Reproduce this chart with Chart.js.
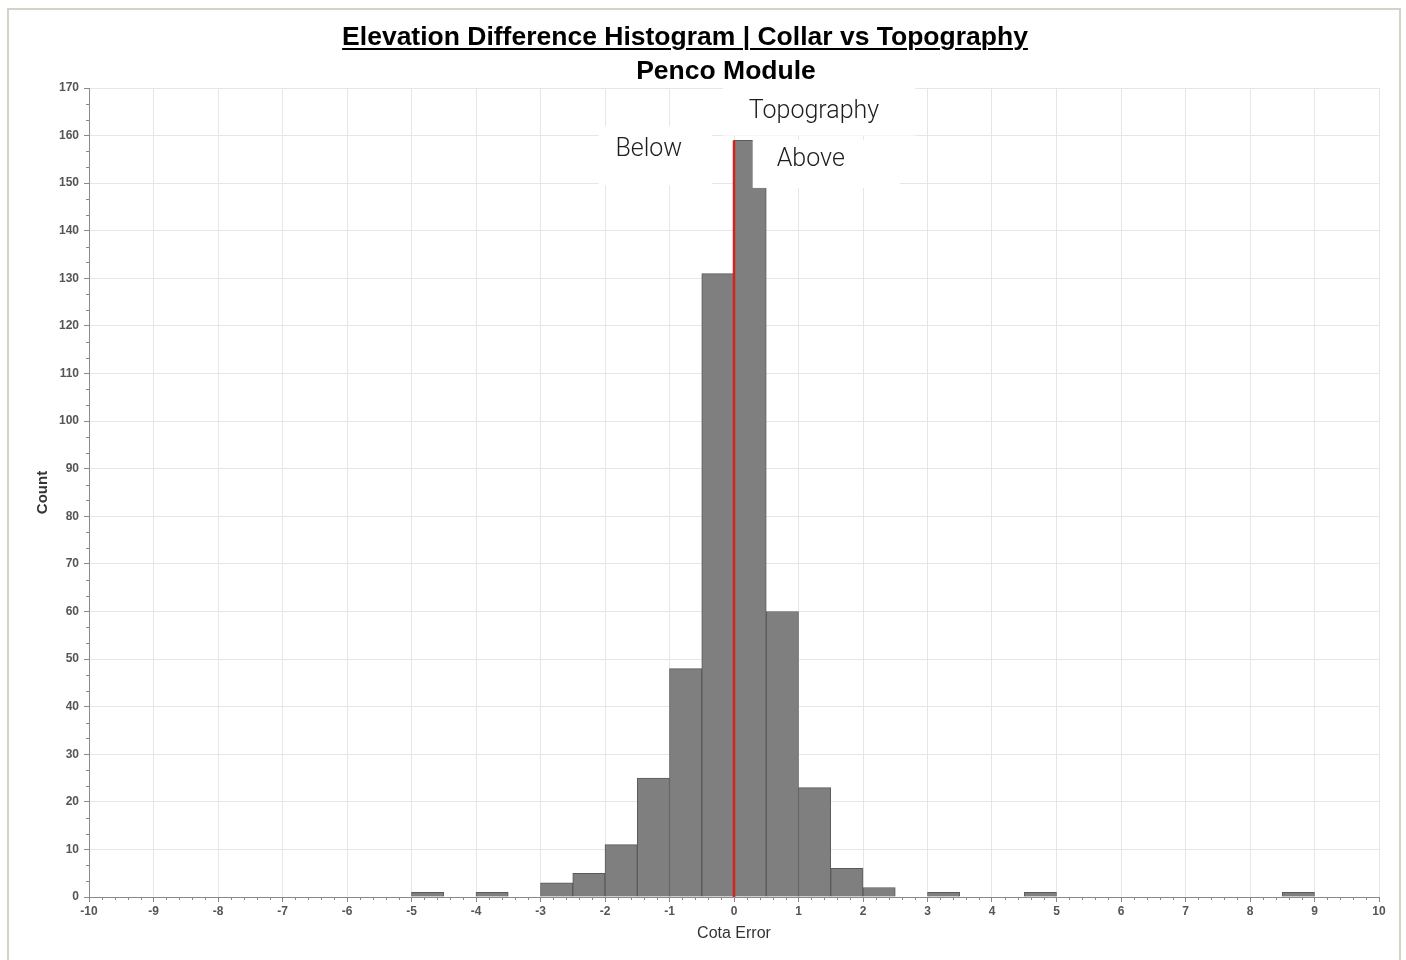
<!DOCTYPE html>
<html>
<head>
<meta charset="utf-8">
<script src="https://cdn.jsdelivr.net/npm/chart.js@4/dist/chart.umd.min.js"></script>
<style>
  html, body { margin: 0; padding: 0; background: #fff; }
  #wrap { position: relative; width: 1406px; height: 960px; overflow: hidden; }
  #frame { position: absolute; left: 7px; top: 8px; width: 1394px; height: 980px; border: 2px solid #d3d3c7; box-sizing: border-box; }
  .ttl { position: absolute; transform: translateX(-50%); white-space: nowrap;
         font: bold 26.5px "Liberation Sans", Arial, sans-serif; line-height: 1; color: #000; }
  #title { left: 685px; top: 23px; text-decoration: underline; text-decoration-thickness: 2px; text-underline-offset: 3px; }
  #subtitle { left: 726px; top: 57px; }
  canvas { position: absolute; left: 0; top: 0; }
</style>
</head>
<body>
<div id="wrap">
  <canvas id="chart" width="1406" height="960"></canvas>
  <div id="frame"></div>
  <div class="ttl" id="title">Elevation Difference Histogram | Collar vs Topography</div>
  <div class="ttl" id="subtitle">Penco Module</div>
</div>
<script>
// histogram bins: 0.5 wide, starting at -10
const binStart = -10;
const binWidth = 0.5;
const counts = [
  0, 0, 0, 0, 0, 0, 0, 0, 0, 0,     // -10 .. -5.5
  1, 0, 1, 0, 3, 5, 11, 25, 48, 131, // -5 .. -0.5
  159, 60, 23, 6, 2, 0, 1, 0, 0, 1,  // 0 .. 4.5
  0, 0, 0, 0, 0, 0, 0, 1, 0, 0       // 5 .. 9.5
];
// red reference line at zero difference
const refLineX = 0;
const refLineTop = 159;
const xTitle = 'Cota Error';
const yTitle = 'Count';

const barData = counts.map((c, i) => ({ x: binStart + binWidth * i + binWidth / 2, y: c }));

// white-boxed text labels, placed in data units
const notes = [
  { text: 'Topography', x: 1.24, y: 165, box: [-0.17, 2.81, 170, 160] },
  { text: 'Below', x: -1.32, y: 157, box: [-2.1, -0.34, 162, 149.6] },
  { text: 'Above', x: 1.19, y: 155, box: [0.29, 2.57, 159.1, 149] }
];

const notesPlugin = {
  id: 'notes',
  afterDatasetsDraw(chart) {
    const { ctx, scales: { x, y } } = chart;
    ctx.save();
    notes.forEach(n => {
      const [x0, x1, y0, y1] = n.box;
      ctx.fillStyle = '#fff';
      ctx.fillRect(x.getPixelForValue(x0), y.getPixelForValue(y0),
        x.getPixelForValue(x1) - x.getPixelForValue(x0), y.getPixelForValue(y1) - y.getPixelForValue(y0));
      ctx.fillStyle = '#1e1e1e';
      ctx.font = '300 25px Roboto';
      ctx.textAlign = 'center';
      ctx.textBaseline = 'middle';
      ctx.fillText(n.text, x.getPixelForValue(n.x), y.getPixelForValue(n.y));
    });
    ctx.restore();
  }
};

// small minor ticks between the labelled ones
const minorTicks = {
  id: 'minorTicks',
  afterDraw(chart) {
    const { ctx, scales: { x, y } } = chart;
    ctx.save();
    ctx.strokeStyle = '#8a8a8a';
    ctx.lineWidth = 1;
    ctx.beginPath();
    for (let i = 0; i <= 100; i++) {
      if (i % 5 === 0) continue;
      const px = Math.round(x.getPixelForValue(-10 + i * 0.2)) + 0.5;
      ctx.moveTo(px, y.bottom);
      ctx.lineTo(px, y.bottom + 3);
    }
    for (let i = 0; i <= 51; i++) {
      if (i % 3 === 0) continue;
      const py = Math.round(y.getPixelForValue(i * 10 / 3)) + 0.5;
      ctx.moveTo(x.left - 3, py);
      ctx.lineTo(x.left, py);
    }
    ctx.stroke();
    ctx.restore();
  }
};

const tickFont = { family: 'Liberation Sans', size: 12, weight: 'bold' };

new Chart(document.getElementById('chart'), {
  type: 'bar',
  data: {
    datasets: [{
      type: 'line',
      data: [{ x: refLineX, y: 0 }, { x: refLineX, y: refLineTop }],
      borderColor: '#d3241c',
      borderWidth: 2.5,
      pointRadius: 0,
      order: 0
    }, {
      data: barData,
      backgroundColor: '#7f7f7f',
      borderColor: '#5a5a5a',
      borderWidth: 1,
      barPercentage: 1,
      categoryPercentage: 1,
      order: 1
    }]
  },
  options: {
    responsive: false,
    animation: false,
    layout: { padding: { left: 30, right: 27, top: 88, bottom: 13 } },
    plugins: { legend: { display: false }, tooltip: { enabled: false } },
    scales: {
      x: {
        type: 'linear',
        min: -10,
        max: 10,
        offset: false,
        afterFit: s => { s.height = 50; },
        ticks: { stepSize: 1, autoSkip: false, maxRotation: 0, color: '#555', font: tickFont, padding: 2 },
        grid: { offset: false, color: '#e6e6e6', tickColor: '#8a8a8a', tickLength: 5 },
        border: { color: '#8a8a8a' },
        title: { display: true, text: xTitle, color: '#333', font: { family: 'Liberation Sans', size: 16 } }
      },
      y: {
        min: 0,
        max: 170,
        afterFit: s => { s.width = 59; },
        ticks: { stepSize: 10, autoSkip: false, color: '#555', font: tickFont, padding: 5 },
        grid: { color: '#e6e6e6', tickColor: '#8a8a8a', tickLength: 5 },
        border: { color: '#8a8a8a' },
        title: { display: true, text: yTitle, color: '#333', font: { family: 'Liberation Sans', size: 15, weight: 'bold' } }
      }
    }
  },
  plugins: [notesPlugin, minorTicks]
});
</script>
</body>
</html>
